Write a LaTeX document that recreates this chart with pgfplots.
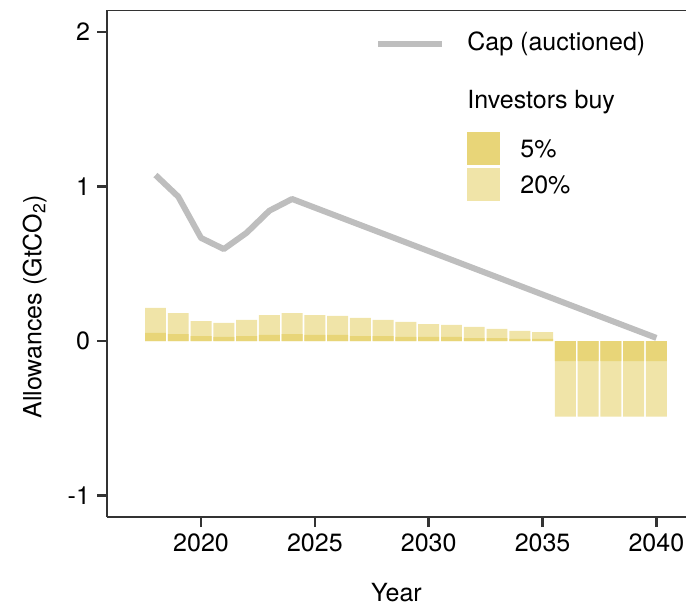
\documentclass[border=0pt]{standalone}
\usepackage{fontspec}
\setmainfont{TeX Gyre Heros}
\usepackage{pgfplots}
\pgfplotsset{compat=1.18}

\definecolor{capgray}{RGB}{190,190,190}
\definecolor{darkgold}{RGB}{232,213,120}
\definecolor{lightgold}{RGB}{240,228,168}
\definecolor{spine}{RGB}{51,51,51}

% investors buying 20% (light) and 5% (dark) of allowances
\pgfplotstableread{
year val
2018 0.214
2019 0.181
2020 0.129
2021 0.117
2022 0.136
2023 0.168
2024 0.181
2025 0.168
2026 0.162
2027 0.149
2028 0.136
2029 0.123
2030 0.110
2031 0.104
2032 0.091
2033 0.078
2034 0.065
2035 0.058
2036 -0.49
2037 -0.49
2038 -0.49
2039 -0.49
2040 -0.49
}\buytwenty
\pgfplotstableread{
year val
2018 0.052
2019 0.045
2020 0.032
2021 0.026
2022 0.032
2023 0.039
2024 0.045
2025 0.039
2026 0.039
2027 0.032
2028 0.032
2029 0.026
2030 0.026
2031 0.026
2032 0.019
2033 0.019
2034 0.013
2035 0.013
2036 -0.13
2037 -0.13
2038 -0.13
2039 -0.13
2040 -0.13
}\buyfive

\begin{document}
\begin{tikzpicture}[font=\fontsize{12.5}{15}\selectfont]
\begin{axis}[
    scale only axis,
    width=289.5pt, height=253.5pt,
    xmin=2015.87, xmax=2041.3,
    ymin=-1.139, ymax=2.142,
    axis x line*=bottom, axis y line*=left,
    axis line style={spine, line width=1.3pt, -},
    xtick={2020,2025,...,2040},
    ytick={-1,0,1,2},
    tick align=outside,
    major tick length=5pt,
    tick style={spine, line width=1.3pt},
    /pgf/number format/assume math mode=true,
    xticklabel style={/pgf/number format/1000 sep={}},
    tick label style={font=\fontsize{12.5}{15}\selectfont},
    xlabel={Year}, ylabel={Allowances (GtCO\textsubscript{2})},
    label style={font=\fontsize{12.5}{15}\selectfont},
    xlabel style={at={(axis description cs:0.5,-0.150)}, anchor=center},
    ylabel style={at={(axis description cs:-0.125,0.415)}, anchor=center},
    bar width=0.92, bar shift=0pt,
]
\addplot[ybar, fill=lightgold, draw=none] table[x=year, y=val] {\buytwenty};
\addplot[ybar, fill=darkgold, draw=none] table[x=year, y=val] {\buyfive};
\addplot[capgray, line width=3pt, line join=round] coordinates {
    (2018,1.074) (2019,0.934) (2020,0.667) (2021,0.595) (2022,0.700)
    (2023,0.843) (2024,0.919) (2040,0.020)
};
\draw[spine, line width=1.3pt] (rel axis cs:0,1) -- (rel axis cs:1,1);
\end{axis}
% legend
\draw[capgray, line width=3pt] (135.5pt,236.5pt) -- (167.5pt,236.5pt);
\node[anchor=west, inner sep=0pt] at (180pt,236.5pt) {Cap (auctioned)};
\node[anchor=west, inner sep=0pt] at (180pt,207.5pt) {Investors buy};
\fill[darkgold] (180pt,176pt) rectangle (196.5pt,192.5pt);
\fill[lightgold] (180pt,158pt) rectangle (196.5pt,174.5pt);
\node[anchor=west, inner sep=0pt] at (206.5pt,184pt) {5\%};
\node[anchor=west, inner sep=0pt] at (206.5pt,166pt) {20\%};
\pgfresetboundingbox
\path[use as bounding box] (-53.5pt,-45pt) rectangle (289.5pt,258.5pt);
\end{tikzpicture}
\end{document}
